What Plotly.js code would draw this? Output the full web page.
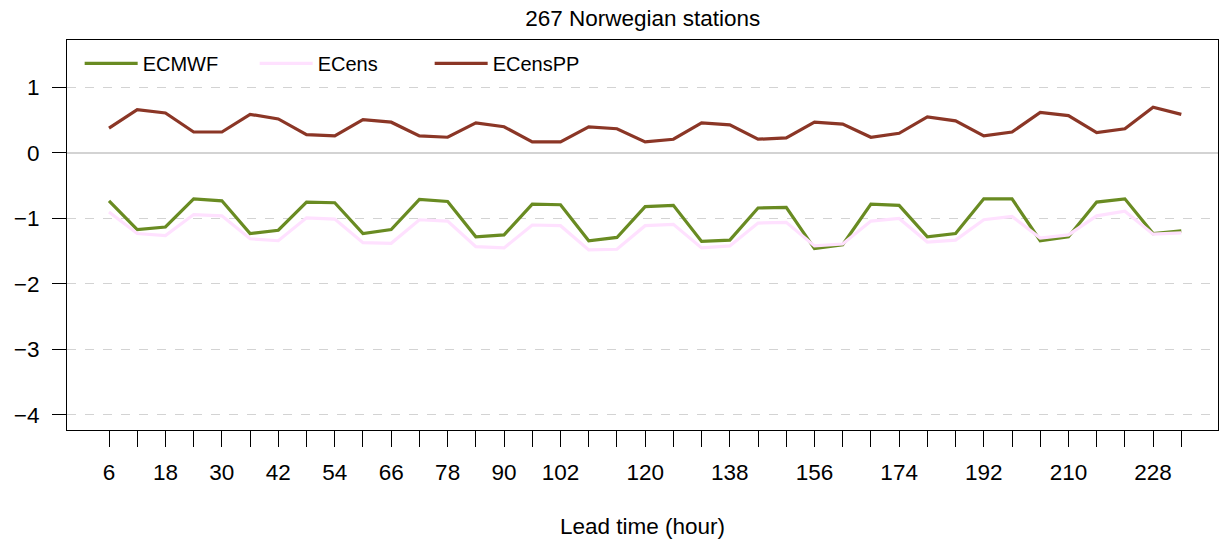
<!DOCTYPE html>
<html>
<head>
<meta charset="utf-8">
<script src="https://cdn.plot.ly/plotly-3.0.1.min.js"></script>
<style>html,body{margin:0;padding:0;background:#fff}#chart{width:1222px;height:547px}</style>
</head>
<body>
<div id="chart"></div>
<script>
// Lead times (hours)
const leadTime = [6,12,18,24,30,36,42,48,54,60,66,72,78,84,90,96,102,108,114,120,126,132,138,144,150,156,162,168,174,180,186,192,198,204,210,216,222,228,234];
const xTickLabels = {6:"6",18:"18",30:"30",42:"42",54:"54",66:"66",78:"78",90:"90",102:"102",120:"120",138:"138",156:"156",174:"174",192:"192",210:"210",228:"228"};
const yTickValues = [-4,-3,-2,-1,0,1];

const ecmwf = [-0.73,-1.17,-1.13,-0.70,-0.73,-1.23,-1.18,-0.75,-0.76,-1.23,-1.17,-0.71,-0.74,
  -1.28,-1.25,-0.78,-0.79,-1.34,-1.29,-0.82,-0.80,-1.35,-1.33,-0.84,-0.83,-1.46,-1.40,
  -0.78,-0.80,-1.28,-1.23,-0.70,-0.70,-1.34,-1.28,-0.75,-0.70,-1.23,-1.19];
const ecens = [-0.90,-1.23,-1.26,-0.94,-0.96,-1.31,-1.34,-0.99,-1.01,-1.37,-1.38,-1.02,-1.04,
  -1.43,-1.45,-1.10,-1.11,-1.48,-1.47,-1.11,-1.09,-1.45,-1.42,-1.07,-1.06,-1.42,-1.39,
  -1.04,-1.00,-1.36,-1.33,-1.02,-0.97,-1.30,-1.25,-0.96,-0.89,-1.24,-1.22];
const ecensPP = [0.38,0.66,0.61,0.32,0.32,0.59,0.52,0.28,0.26,0.51,0.47,0.26,0.24,
  0.46,0.40,0.17,0.17,0.40,0.37,0.17,0.21,0.46,0.43,0.21,0.23,0.47,0.44,
  0.24,0.30,0.55,0.49,0.26,0.32,0.62,0.57,0.31,0.37,0.70,0.59];

const FONT = "Liberation Sans, Arial, Helvetica, sans-serif";

const traces = [
  {x: leadTime, y: ecmwf, name: "ECMWF", type: "scatter", mode: "lines", line: {color: "#698B22", width: 3.2}},
  {x: leadTime, y: ecens, name: "ECens", type: "scatter", mode: "lines", line: {color: "#FFE1FF", width: 3.2}},
  {x: leadTime, y: ecensPP, name: "ECensPP", type: "scatter", mode: "lines", line: {color: "#8B3626", width: 3.2}}
];

const layout = {
  width: 1222, height: 547,
  margin: {l: 67, r: 4, t: 40, b: 117},
  paper_bgcolor: "#fff", plot_bgcolor: "#fff",
  font: {family: FONT, color: "#000", size: 22},
  title: {text: "267 Norwegian stations", font: {family: FONT, size: 22.5, color: "#000"}, x: 0.526, xanchor: "center", y: 0.967, yanchor: "middle"},
  showlegend: true,
  legend: {orientation: "h", x: 0.011, xanchor: "left", y: 0.99, yanchor: "top", bgcolor: "rgba(0,0,0,0)", borderwidth: 0,
           font: {family: FONT, size: 20, color: "#000"}, itemwidth: 53, entrywidth: 107, entrywidthmode: "pixels"},
  xaxis: {
    range: [-2.93, 241.8], tickmode: "array", tickvals: leadTime,
    ticktext: leadTime.map(v => xTickLabels[v] || ""),
    ticks: "outside", ticklen: 16, tickcolor: "#000", tickwidth: 1,
    showgrid: false, zeroline: false, showline: true, linecolor: "#000", linewidth: 1, mirror: true,
    tickfont: {family: FONT, size: 22.5, color: "#000"}, ticklabelstandoff: 6,
    title: {text: "Lead time (hour)", font: {family: FONT, size: 22.5, color: "#000"}, standoff: 34}
  },
  yaxis: {
    range: [-4.23, 1.725], tickmode: "array", tickvals: yTickValues,
    ticktext: yTickValues.map(v => v < 0 ? "\u2212" + Math.abs(v) : String(v)),
    ticks: "outside", ticklen: 14, tickcolor: "#000", tickwidth: 1,
    showgrid: true, gridcolor: "#d3d3d3", griddash: "dash", gridwidth: 1,
    zeroline: true, zerolinecolor: "#d3d3d3", zerolinewidth: 1.5,
    showline: true, linecolor: "#000", linewidth: 1, mirror: true,
    tickfont: {family: FONT, size: 22.5, color: "#000"}, ticklabelstandoff: 8
  }
};

Plotly.newPlot("chart", traces, layout, {staticPlot: true, displayModeBar: false});
</script>
</body>
</html>
